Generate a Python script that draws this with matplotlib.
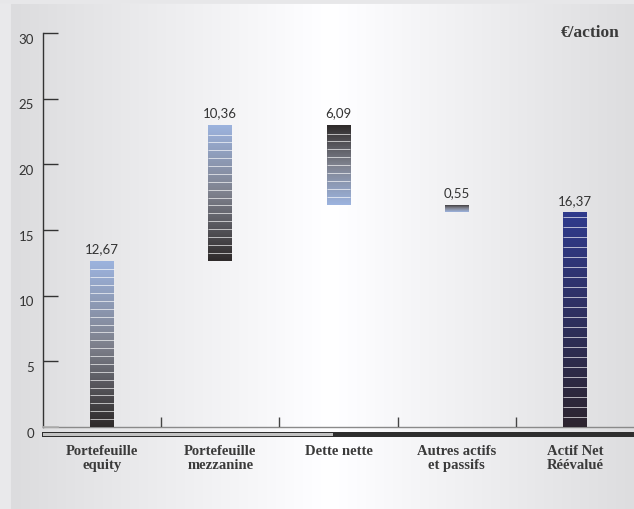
import numpy as np
import matplotlib
matplotlib.use("Agg")
import matplotlib.pyplot as plt
from matplotlib.colors import to_rgb
from matplotlib.patches import Rectangle

# Bridge from the portfolios to the revalued NAV (EUR per share)
categories = ["Portefeuille\nequity", "Portefeuille\nmezzanine", "Dette nette",
              "Autres actifs\net passifs", "Actif Net\nRéévalué"]
values = [12.67, 10.36, -6.09, -0.55, 16.37]
is_total = [False, False, False, False, True]
yticks = [0, 5, 10, 15, 20, 25, 30]

W, H = 634, 509
fig = plt.figure(figsize=(W / 100, H / 100), dpi=100)

# soft grey panel, white in the middle
bg = fig.add_axes([0, 0, 1, 1], zorder=-10)
bg.set_axis_off()
xs = np.arange(W)
prof = np.interp(xs, [0, 10, 11, 330, 633], [233, 233, 220, 255, 221])
img = np.repeat(prof[None, :], H, axis=0)
img[:4, :] = 232
img = np.dstack([img, img, img + 2]).clip(0, 255) / 255.0
bg.imshow(img, aspect="auto", extent=[0, 1, 0, 1])
bg.set_xlim(0, 1)
bg.set_ylim(0, 1)

ax = fig.add_axes([43 / W, (H - 427) / H, 1 - 43 / W, (427 - 33) / H])
ax.patch.set_alpha(0)
for s in ["top", "right", "bottom"]:
    ax.spines[s].set_visible(False)
ax.spines["left"].set_color("#333333")
ax.spines["left"].set_linewidth(1.0)

xpos = np.arange(len(categories))
width = 0.2
dark = "#2f2b2b"
mid = "#7f828e"
light = "#9cb3de"
navy_bottom = "#2d2530"
navy_top = "#2f3a8c"


def gradient_bar(x, lo, hi, colors, step):
    rect = Rectangle((x - width / 2, lo), width, hi - lo, facecolor="none",
                     edgecolor="none", zorder=3)
    ax.add_patch(rect)
    n = 64
    t = np.linspace(0, 1, n)
    stops = np.linspace(0, 1, len(colors))
    rgb = np.array([to_rgb(c) for c in colors])
    grad = np.stack([np.interp(t, stops, rgb[:, k]) for k in range(3)], axis=1)
    im = ax.imshow(grad[:, None, :], extent=[x - width / 2, x + width / 2, lo, hi],
                   origin="lower", aspect="auto", zorder=3, interpolation="bilinear")
    im.set_clip_path(rect)
    lines = np.arange(lo + step, hi - step * 0.3, step)
    ax.hlines(lines, x - width / 2, x + width / 2, color="white", lw=0.7,
              alpha=0.65, zorder=4)


running = 0.0
for i, (v, tot) in enumerate(zip(values, is_total)):
    if tot:
        lo, hi = 0.0, v
        gradient_bar(xpos[i], lo, hi, [navy_bottom, navy_top], 0.76)
    elif v >= 0:
        lo, hi = running, running + v
        gradient_bar(xpos[i], lo, hi, [dark, mid, light], 0.6)
        running = hi
    else:
        lo, hi = running + v, running
        gradient_bar(xpos[i], lo, hi, [light, mid, dark], 0.6)
        running = lo
    label = f"{abs(v):.2f}".replace(".", ",")
    ax.text(xpos[i], hi + 0.38, label, ha="center", va="bottom",
            fontsize=9.5, color="#333333", family="Lato")

ax.set_xlim(-0.5, 4.5)
ax.set_ylim(0, 30)

# y axis: inward ticks, labels sitting slightly below each tick
ax.set_yticks(yticks[1:])
ax.set_yticklabels([])
ax.tick_params(axis="y", direction="in", length=11, width=1.0, color="#333333")
ax.set_xticks([])
ax.plot([-0.5, -0.5 + 15 / 118.25], [0, 0], color="#b0b0b0", lw=1.2,
        clip_on=False, zorder=5)
for t in yticks:
    ax.text(-0.5 - 9 / 118.25, t - 0.5, str(t), ha="right", va="center",
            fontsize=9.5, color="#333333", family="Lato", clip_on=False)

# baseline with category separators
ax.plot([-0.5, 4.5], [0, 0], color="#8a8a8a", lw=1.0, clip_on=False, zorder=2)
ax.vlines(xpos[:-1] + 0.5, 0, 0.75, color="#444444", lw=1.0, zorder=2)

# thick band under the axis
ax.add_patch(Rectangle((-0.508, -0.78), 5.01, 0.42, facecolor="#2e2e2e",
                       edgecolor="none", clip_on=False, zorder=2))
ax.add_patch(Rectangle((-0.5, -0.7), 2.45, 0.26, facecolor="#c2c2c2",
                       edgecolor="none", clip_on=False, zorder=3))

for i, c in enumerate(categories):
    ax.text(xpos[i], -1.4, c, ha="center", va="top", fontsize=10.5,
            fontweight="bold", color="#3a3a3a", family="Liberation Serif",
            linespacing=1.1, clip_on=False)

fig.text(620 / W, 1 - 33 / H, "€/action", ha="right", va="center", fontsize=12.5,
         fontweight="bold", color="#3a3a3a", family="Liberation Serif")

fig.savefig("out.png", dpi=100)
